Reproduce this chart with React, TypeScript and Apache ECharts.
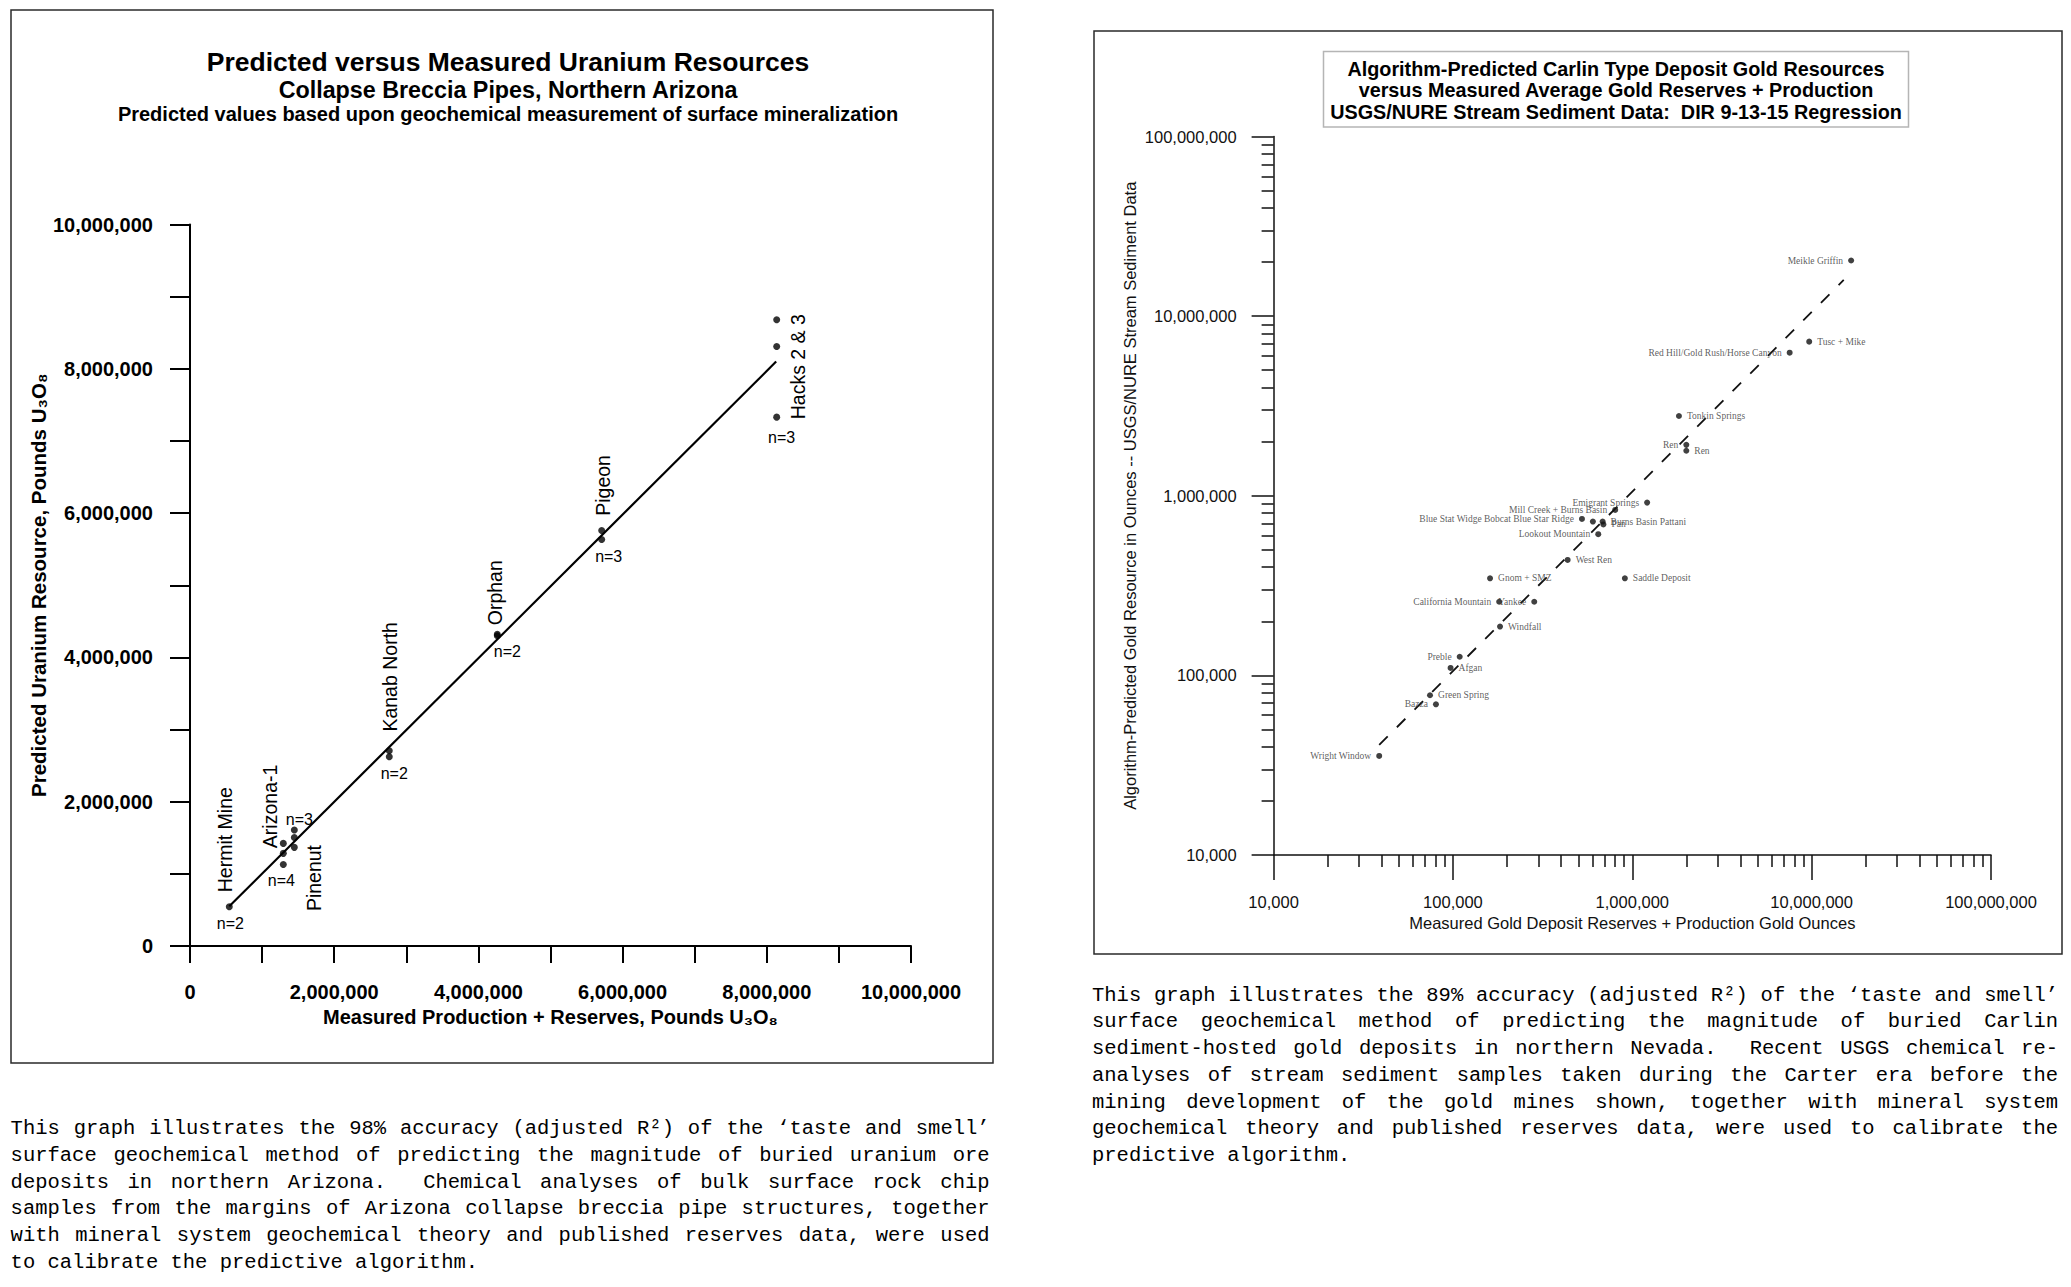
import React, { useEffect, useRef } from "react";
import * as echarts from "echarts";

// ---------------- Left chart: uranium (pounds U3O8) ----------------
const uraniumDeposits = ["Hermit Mine", "Arizona-1", "Pinenut", "Kanab North", "Orphan", "Pigeon", "Hacks 2 & 3"];
const uraniumMeasured = [545000, 1294000, 1447000, 2764000, 4262000, 5710000, 8137000];
const uraniumPredicted = [
  [545000],
  [1422000, 1284000, 1130000],
  [1607000, 1505000, 1367000],
  [2705000, 2622000],
  [4300000, 4320000],
  [5760000, 5633000],
  [8680000, 8310000, 7330000],
];
const uraniumCounts = ["n=2", "n=4", "n=3", "n=2", "n=2", "n=3", "n=3"];
const uraniumFitX = [545000, 8130000];
const uraniumFitY = [550000, 8100000];

// ---------------- Right chart: gold (ounces) ----------------
const goldNames = [
  "Meikle Griffin", "Tusc + Mike", "Red Hill/Gold Rush/Horse Canyon", "Tonkin Springs", "Ren", "Ren",
  "Emigrant Springs", "Mill Creek + Burns Basin", "Blue Stat Widge Bobcat Blue Star Ridge", "",
  "Burns Basin Pattani", "Pan", "Lookout Mountain", "West Ren", "Gnom + SMZ", "Saddle Deposit",
  "California Mountain", "Yankee", "Windfall", "Preble", "Afgan", "Green Spring", "Bazza", "Wright Window",
];
const goldMeasured = [
  16600000, 9690000, 7540000, 1820000, 2000000, 2000000,
  1210000, 803000, 524000, 603000,
  683000, 690000, 646000, 436000, 161000, 909000,
  181000, 284000, 183000, 109000, 97000, 74500, 80400, 38800,
];
const goldPredicted = [
  20400000, 7210000, 6260000, 2780000, 1920000, 1780000,
  916000, 834000, 743000, 718000,
  718000, 692000, 611000, 439000, 347000, 347000,
  257000, 257000, 187000, 127000, 110000, 77500, 69000, 35600,
];
const goldFitX = [38800, 15100000];
const goldFitY = [41000, 15900000];

// ---------------- Paragraphs ----------------
const leftLines = [
  "This graph illustrates the 98% accuracy (adjusted R²) of the ‘taste and smell’",
  "surface geochemical method of predicting the magnitude of buried uranium ore",
  "deposits in northern Arizona.\u00a0 Chemical analyses of bulk surface rock chip",
  "samples from the margins of Arizona collapse breccia pipe structures, together",
  "with mineral system geochemical theory and published reserves data, were used",
  "to calibrate the predictive algorithm.",
];
const rightLines = [
  "This graph illustrates the 89% accuracy (adjusted R²) of the ‘taste and smell’",
  "surface geochemical method of predicting the magnitude of buried Carlin",
  "sediment-hosted gold deposits in northern Nevada.\u00a0 Recent USGS chemical re-",
  "analyses of stream sediment samples taken during the Carter era before the",
  "mining development of the gold mines shown, together with mineral system",
  "geochemical theory and published reserves data, were used to calibrate the",
  "predictive algorithm.",
];

// ---------------- Styles (positions / offsets) ----------------
const FONT = '"Liberation Sans", Arial, sans-serif';
const SERIF = '"Liberation Serif", "Times New Roman", serif';
const MONO = '"Liberation Mono", "DejaVu Sans Mono", monospace';
const nameOffsets = [[-4, -67], [-13, -37], [20, 48], [1, -74], [-2, -43], [1, -45], [21, 47]];
const countOffsets = [[1, 17], [-2, 37], [5, -11], [5, 23], [10, 16], [7, 26], [5, 118]];
const goldLabelSide = [
  "left", "right", "left", "right", "left", "right",
  "left", "left", "left", "right",
  "right", "right", "left", "right", "right", "right",
  "left", "left", "right", "left", "right", "right", "left", "left",
];

const fmt = (v: number) => Math.round(v).toLocaleString("en-US");

function Paragraph({ lines, left, top, width }: { lines: string[]; left: number; top: number; width: number }) {
  return (
    <div style={{ position: "absolute", left, top, width, fontFamily: MONO, fontSize: 20.5, lineHeight: "26.75px", color: "#000" }}>
      {lines.map((l, i) => (
        <div key={i} style={{ textAlign: "justify", textAlignLast: i < lines.length - 1 ? "justify" : "left" } as any}>
          {l}
        </div>
      ))}
    </div>
  );
}

export default function App() {
  const ref = useRef<HTMLDivElement>(null);
  useEffect(() => {
    const el = ref.current!;
    const chart = echarts.init(el, null, { renderer: "svg", width: 2071, height: 1287 });

    const leftPoints: number[][] = [];
    uraniumDeposits.forEach((_, i) => uraniumPredicted[i].forEach((y) => leftPoints.push([uraniumMeasured[i], y])));
    const goldData = goldNames.map((n, i) => ({
      name: n,
      value: [goldMeasured[i], goldPredicted[i]],
      label: { position: goldLabelSide[i] },
    }));
    const minorLog: number[] = [];
    for (let d = 4; d < 8; d++) for (let m = 2; m <= 9; m++) minorLog.push(d + Math.log10(m));

    const txt = (text: string, x: number, y: number, size: number, bold = true, extra: any = {}) => ({
      type: "text",
      x,
      y,
      z: 10,
      style: { text, fill: "#000", fontSize: size, fontWeight: bold ? "bold" : "normal", fontFamily: FONT, align: "center", verticalAlign: "middle" },
      ...extra,
    });

    const staticGraphics: any[] = [
      { type: "rect", shape: { x: 11, y: 10, width: 982, height: 1053 }, style: { fill: "none", stroke: "#2a2a2a", lineWidth: 1.5 }, z: 1 },
      { type: "rect", shape: { x: 1094, y: 31, width: 968, height: 923 }, style: { fill: "none", stroke: "#2a2a2a", lineWidth: 1.5 }, z: 1 },
      { type: "rect", shape: { x: 1323.5, y: 51.5, width: 585, height: 75.5 }, style: { fill: "#fff", stroke: "#b5b5b5", lineWidth: 1.5 }, z: 1 },
      txt("Predicted versus Measured Uranium Resources", 508, 62, 26.5),
      txt("Collapse Breccia Pipes, Northern Arizona", 508, 90, 23.3),
      txt("Predicted values based upon geochemical measurement of surface mineralization", 508, 114, 20),
      txt("Algorithm-Predicted Carlin Type Deposit Gold Resources", 1616, 69, 19.8),
      txt("versus Measured Average Gold Reserves + Production", 1616, 90, 19.8),
      txt("USGS/NURE Stream Sediment Data:  DIR 9-13-15 Regression", 1616, 112, 19.8),
    ];

    const option: any = {
      animation: false,
      backgroundColor: "#fff",
      grid: [
        { left: 190, top: 224.5, width: 721, height: 721.5 },
        { left: 1273.6, top: 136.5, width: 717.4, height: 718.5 },
      ],
      xAxis: [
        {
          gridIndex: 0, type: "value", min: 0, max: 10000000, interval: 1000000,
          name: "Measured Production + Reserves, Pounds U₃O₈", nameLocation: "middle", nameGap: 61,
          nameTextStyle: { fontFamily: FONT, fontSize: 20, fontWeight: "bold", color: "#000" },
          axisLine: { onZero: false, lineStyle: { color: "#000", width: 2 } },
          axisTick: { show: true, length: 17, lineStyle: { color: "#000", width: 2 } },
          axisLabel: { formatter: (v: number) => (Math.round(v / 1e6) % 2 === 0 ? fmt(v) : ""), margin: 36, fontFamily: FONT, fontSize: 20, fontWeight: "bold", color: "#000" },
          splitLine: { show: false },
        },
        {
          gridIndex: 1, type: "log", logBase: 10, min: 10000, max: 100000000,
          name: "Measured Gold Deposit Reserves + Production Gold Ounces", nameLocation: "middle", nameGap: 57,
          nameTextStyle: { fontFamily: FONT, fontSize: 16.5, color: "#111" },
          axisLine: { onZero: false, lineStyle: { color: "#111", width: 1.5 } },
          axisTick: { show: true, length: 25, lineStyle: { color: "#111", width: 1.5 } },
          axisLabel: { formatter: (v: number) => fmt(v), margin: 38, fontFamily: FONT, fontSize: 16.5, color: "#111" },
          splitLine: { show: false },
          minorTick: { show: false },
        },
        {
          gridIndex: 1, type: "value", min: 4, max: 8, position: "bottom",
          axisLine: { show: false }, axisLabel: { show: false }, splitLine: { show: false },
          axisTick: { show: true, customValues: minorLog, length: 12, lineStyle: { color: "#111", width: 1.5 } },
        },
      ],
      yAxis: [
        {
          gridIndex: 0, type: "value", min: 0, max: 10000000, interval: 1000000,
          name: "Predicted Uranium Resource, Pounds U₃O₈", nameLocation: "middle", nameGap: 134,
          nameTextStyle: { fontFamily: FONT, fontSize: 20.5, fontWeight: "bold", color: "#000" },
          axisLine: { onZero: false, lineStyle: { color: "#000", width: 2 } },
          axisTick: { show: true, length: 20, lineStyle: { color: "#000", width: 2 } },
          axisLabel: { formatter: (v: number) => (Math.round(v / 1e6) % 2 === 0 ? fmt(v) : ""), margin: 37, fontFamily: FONT, fontSize: 20, fontWeight: "bold", color: "#000" },
          splitLine: { show: false },
        },
        {
          gridIndex: 1, type: "log", logBase: 10, min: 10000, max: 100000000,
          name: "Algorithm-Predicted Gold Resource in Ounces -- USGS/NURE Stream Sediment Data", nameLocation: "middle", nameGap: 135,
          nameTextStyle: { fontFamily: FONT, fontSize: 16.5, color: "#111" },
          axisLine: { onZero: false, lineStyle: { color: "#111", width: 1.5 } },
          axisTick: { show: true, length: 22, lineStyle: { color: "#111", width: 1.5 } },
          axisLabel: { formatter: (v: number) => fmt(v), margin: 37, fontFamily: FONT, fontSize: 16.5, color: "#111" },
          splitLine: { show: false },
          minorTick: { show: false },
        },
        {
          gridIndex: 1, type: "value", min: 4, max: 8, position: "left",
          axisLine: { show: false }, axisLabel: { show: false }, splitLine: { show: false },
          axisTick: { show: true, customValues: minorLog, length: 12, lineStyle: { color: "#111", width: 1.5 } },
        },
      ],
      series: [
        {
          type: "line", xAxisIndex: 0, yAxisIndex: 0, symbol: "none", z: 2,
          data: uraniumFitX.map((x, i) => [x, uraniumFitY[i]]),
          lineStyle: { color: "#000", width: 2.2 },
        },
        {
          type: "scatter", xAxisIndex: 0, yAxisIndex: 0, symbolSize: 7, z: 3,
          data: leftPoints, itemStyle: { color: "#000" },
        },
        {
          type: "line", xAxisIndex: 1, yAxisIndex: 1, symbol: "none", z: 2,
          data: goldFitX.map((x, i) => [x, goldFitY[i]]),
          lineStyle: { color: "#111", width: 1.8, type: [12, 13] },
        },
        {
          type: "scatter", xAxisIndex: 1, yAxisIndex: 1, symbolSize: 6, z: 3,
          data: goldData, itemStyle: { color: "#111" },
          label: { show: true, formatter: "{b}", fontFamily: SERIF, fontSize: 9.5, color: "#333", distance: 5 },
        },
      ],
      graphic: staticGraphics,
    };
    chart.setOption(option);

    const labelGraphics: any[] = [];
    uraniumDeposits.forEach((name, i) => {
      const p = chart.convertToPixel({ xAxisIndex: 0, yAxisIndex: 0 } as any, [uraniumMeasured[i], uraniumPredicted[i][0]]) as number[];
      labelGraphics.push(txt(name, p[0] + nameOffsets[i][0], p[1] + nameOffsets[i][1], 19.5, false, { rotation: Math.PI / 2 }));
      labelGraphics.push(txt(uraniumCounts[i], p[0] + countOffsets[i][0], p[1] + countOffsets[i][1], 16, false));
    });
    chart.setOption({ graphic: [...staticGraphics, ...labelGraphics] }, { replaceMerge: ["graphic"] } as any);

    return () => chart.dispose();
  }, []);

  return (
    <div style={{ position: "absolute", left: 0, top: 0, width: 2071, height: 1287, background: "#fff" }}>
      <div ref={ref} style={{ position: "absolute", left: 0, top: 0, width: 2071, height: 1287 }} />
      <Paragraph lines={leftLines} left={10.6} top={1116} width={979} />
      <Paragraph lines={rightLines} left={1092} top={982.6} width={966} />
    </div>
  );
}
